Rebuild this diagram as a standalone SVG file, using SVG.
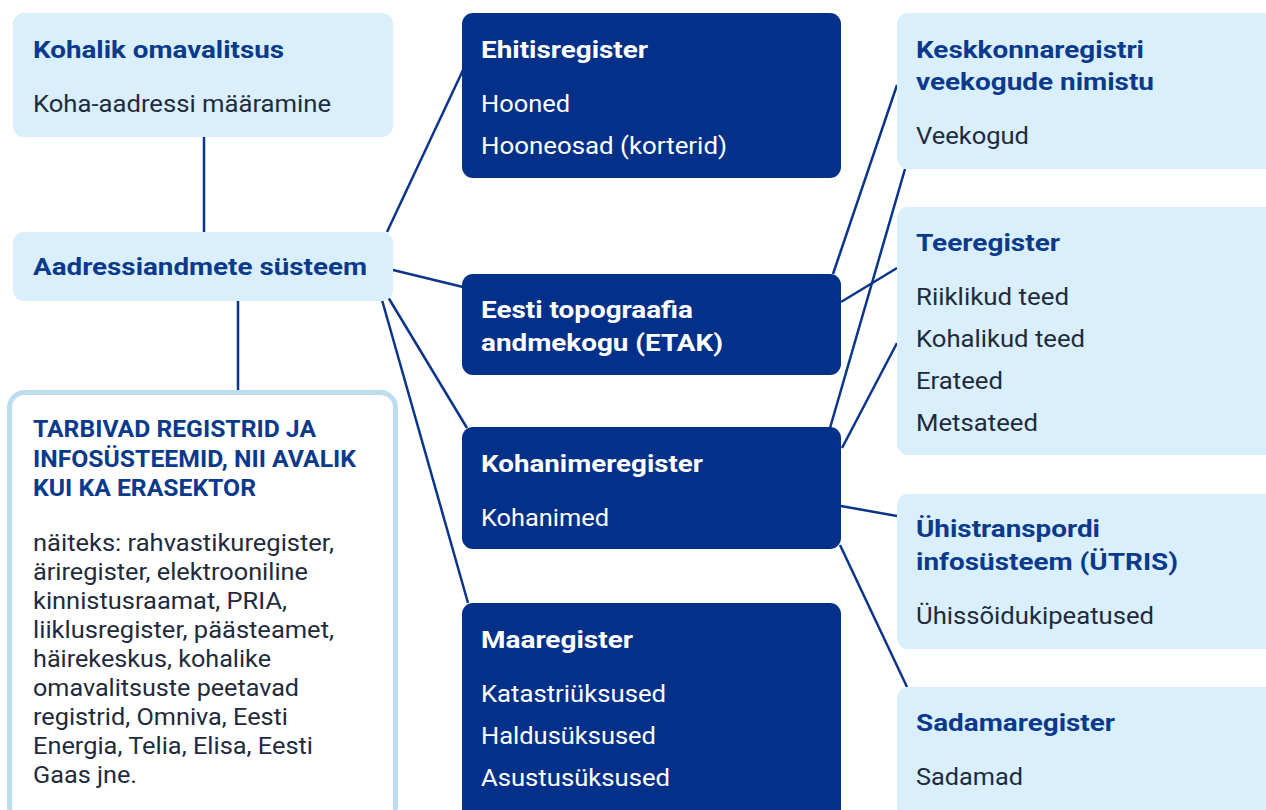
<svg xmlns="http://www.w3.org/2000/svg" width="1266" height="810" viewBox="0 0 1266 810">
<style>
.light{fill:#d9effc}
.dark{fill:#03318a}
text{lengthAdjust:spacingAndGlyphs}
.t{font-family:Roboto,"Liberation Sans",sans-serif;font-weight:700;font-size:23.5px;fill:#0b3a8c}
.tw{font-family:Roboto,"Liberation Sans",sans-serif;font-weight:700;font-size:23.5px;fill:#ffffff}
.b{font-family:Roboto,"Liberation Sans",sans-serif;font-size:23px;fill:#1f2b3c}
.bw{font-family:Roboto,"Liberation Sans",sans-serif;font-size:23px;fill:#ffffff}
.c{stroke:#0b348a;stroke-width:2.5;fill:none}
</style>
<rect width="1266" height="810" fill="#ffffff"/>
<g id="connectors">
<line class="c" x1="204" y1="137" x2="204" y2="232"/>
<line class="c" x1="238" y1="301" x2="238" y2="391"/>
<line class="c" x1="387" y1="232" x2="463" y2="70"/>
<line class="c" x1="393" y1="270" x2="463" y2="287"/>
<line class="c" x1="388" y1="297" x2="467" y2="428"/>
<line class="c" x1="382" y1="300" x2="468" y2="603"/>
<line class="c" x1="833" y1="274" x2="897" y2="85"/>
<line class="c" x1="830" y1="428" x2="905" y2="169"/>
<line class="c" x1="841" y1="302" x2="897" y2="268"/>
<line class="c" x1="842" y1="448" x2="897" y2="343"/>
<line class="c" x1="841" y1="506" x2="897" y2="516"/>
<line class="c" x1="840" y1="545" x2="907" y2="687"/>
</g>
<g id="kohalik">
<rect class="light" x="13" y="13" width="380" height="124" rx="11"/>
<text class="t" x="33" y="58" textLength="251" lengthAdjust="spacingAndGlyphs">Kohalik omavalitsus</text>
<text class="b" x="33" y="112" textLength="298" lengthAdjust="spacingAndGlyphs">Koha-aadressi määramine</text>
</g>
<g id="aadress">
<rect class="light" x="13" y="232" width="380" height="69" rx="11"/>
<text class="t" x="33" y="275" textLength="334" lengthAdjust="spacingAndGlyphs">Aadressiandmete süsteem</text>
</g>
<g id="tarbivad">
<rect x="9.5" y="392.5" width="386" height="430" rx="15" fill="#ffffff" stroke="#bddcee" stroke-width="5"/>
<text class="t" font-size="22.5" x="33" y="437" textLength="283" lengthAdjust="spacingAndGlyphs">TARBIVAD REGISTRID JA</text>
<text class="t" font-size="22.5" x="33" y="467" textLength="323" lengthAdjust="spacingAndGlyphs">INFOSÜSTEEMID, NII AVALIK</text>
<text class="t" font-size="22.5" x="33" y="496" textLength="223" lengthAdjust="spacingAndGlyphs">KUI KA ERASEKTOR</text>
<text class="b" x="33" y="551" textLength="301" lengthAdjust="spacingAndGlyphs">näiteks: rahvastikuregister,</text>
<text class="b" x="33" y="580" textLength="275" lengthAdjust="spacingAndGlyphs">äriregister, elektrooniline</text>
<text class="b" x="33" y="609" textLength="254" lengthAdjust="spacingAndGlyphs">kinnistusraamat, PRIA,</text>
<text class="b" x="33" y="638" textLength="301" lengthAdjust="spacingAndGlyphs">liiklusregister, päästeamet,</text>
<text class="b" x="33" y="667" textLength="238" lengthAdjust="spacingAndGlyphs">häirekeskus, kohalike</text>
<text class="b" x="33" y="696" textLength="266" lengthAdjust="spacingAndGlyphs">omavalitsuste peetavad</text>
<text class="b" x="33" y="725" textLength="255" lengthAdjust="spacingAndGlyphs">registrid, Omniva, Eesti</text>
<text class="b" x="33" y="754" textLength="280" lengthAdjust="spacingAndGlyphs">Energia, Telia, Elisa, Eesti</text>
<text class="b" x="33" y="783" textLength="104" lengthAdjust="spacingAndGlyphs">Gaas jne.</text>
</g>
<g id="ehitis">
<rect class="dark" x="462" y="13" width="379" height="165" rx="11"/>
<text class="tw" x="481" y="58" textLength="167" lengthAdjust="spacingAndGlyphs">Ehitisregister</text>
<text class="bw" x="481" y="112" textLength="89" lengthAdjust="spacingAndGlyphs">Hooned</text>
<text class="bw" x="481" y="154" textLength="246" lengthAdjust="spacingAndGlyphs">Hooneosad (korterid)</text>
</g>
<g id="etak">
<rect class="dark" x="462" y="274" width="379" height="101" rx="11"/>
<text class="tw" x="481" y="318" textLength="212" lengthAdjust="spacingAndGlyphs">Eesti topograafia</text>
<text class="tw" x="481" y="351" textLength="242" lengthAdjust="spacingAndGlyphs">andmekogu (ETAK)</text>
</g>
<g id="kohanime">
<rect class="dark" x="462" y="427" width="379" height="122" rx="11"/>
<text class="tw" x="481" y="472" textLength="222" lengthAdjust="spacingAndGlyphs">Kohanimeregister</text>
<text class="bw" x="481" y="526" textLength="128" lengthAdjust="spacingAndGlyphs">Kohanimed</text>
</g>
<g id="maa">
<rect class="dark" x="462" y="603" width="379" height="230" rx="11"/>
<text class="tw" x="481" y="648" textLength="152" lengthAdjust="spacingAndGlyphs">Maaregister</text>
<text class="bw" x="481" y="702" textLength="185" lengthAdjust="spacingAndGlyphs">Katastriüksused</text>
<text class="bw" x="481" y="744" textLength="175" lengthAdjust="spacingAndGlyphs">Haldusüksused</text>
<text class="bw" x="481" y="786" textLength="189" lengthAdjust="spacingAndGlyphs">Asustusüksused</text>
</g>
<g id="keskkond">
<rect class="light" x="897" y="13" width="400" height="156" rx="11"/>
<text class="t" x="916" y="58" textLength="228" lengthAdjust="spacingAndGlyphs">Keskkonnaregistri</text>
<text class="t" x="916" y="90" textLength="238" lengthAdjust="spacingAndGlyphs">veekogude nimistu</text>
<text class="b" x="916" y="144" textLength="113" lengthAdjust="spacingAndGlyphs">Veekogud</text>
</g>
<g id="tee">
<rect class="light" x="897" y="207" width="400" height="248" rx="11"/>
<text class="t" x="916" y="251" textLength="144" lengthAdjust="spacingAndGlyphs">Teeregister</text>
<text class="b" x="916" y="305" textLength="153" lengthAdjust="spacingAndGlyphs">Riiklikud teed</text>
<text class="b" x="916" y="347" textLength="169" lengthAdjust="spacingAndGlyphs">Kohalikud teed</text>
<text class="b" x="916" y="389" textLength="87" lengthAdjust="spacingAndGlyphs">Erateed</text>
<text class="b" x="916" y="431" textLength="122" lengthAdjust="spacingAndGlyphs">Metsateed</text>
</g>
<g id="utris">
<rect class="light" x="897" y="494" width="400" height="155" rx="11"/>
<text class="t" x="916" y="537" textLength="184" lengthAdjust="spacingAndGlyphs">Ühistranspordi</text>
<text class="t" x="916" y="570" textLength="262" lengthAdjust="spacingAndGlyphs">infosüsteem (ÜTRIS)</text>
<text class="b" x="916" y="624" textLength="238" lengthAdjust="spacingAndGlyphs">Ühissõidukipeatused</text>
</g>
<g id="sadam">
<rect class="light" x="897" y="687" width="400" height="150" rx="11"/>
<text class="t" x="916" y="731" textLength="199" lengthAdjust="spacingAndGlyphs">Sadamaregister</text>
<text class="b" x="916" y="785" textLength="107" lengthAdjust="spacingAndGlyphs">Sadamad</text>
</g>
</svg>
